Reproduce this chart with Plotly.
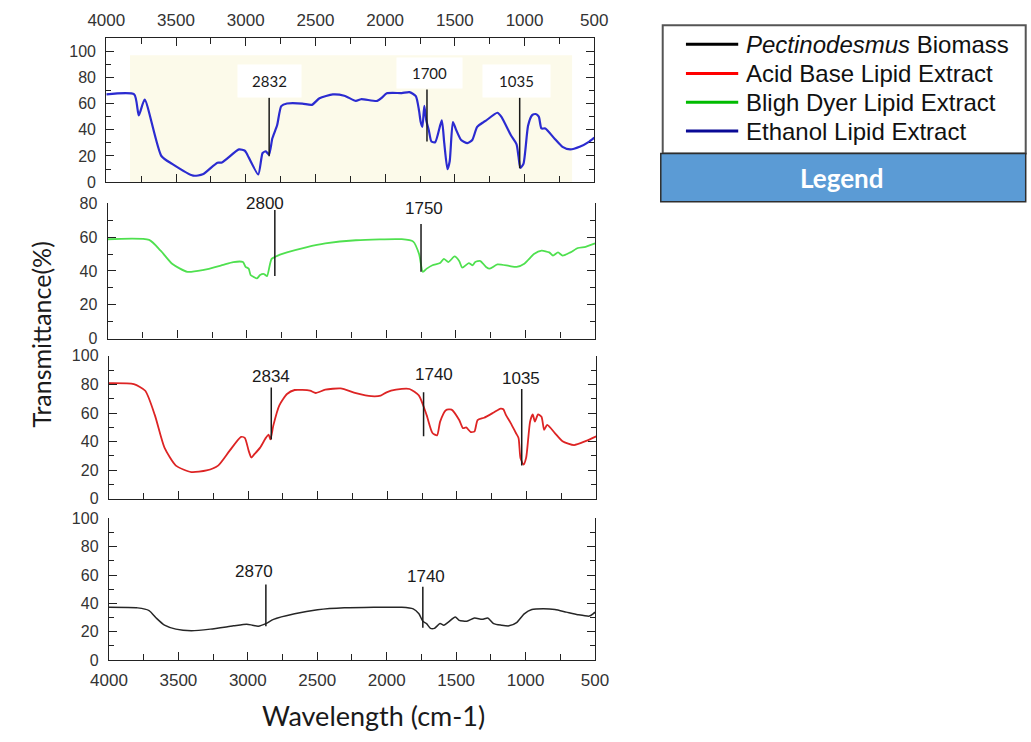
import plotly.graph_objects as go

W, H = 1031, 742

# ---------------- FTIR spectra: wavenumber (cm-1) vs transmittance (%) ----------------
ethanol_wn = [4000, 3800, 3767, 3725, 3605, 3528, 3377, 3308, 3203, 3171, 3048, 3006, 2995,
              2910, 2879, 2856, 2833, 2809, 2775, 2745, 2704, 2594, 2526, 2471, 2375, 2293,
              2210, 2173, 2057, 2023, 1988, 1881, 1826, 1780, 1757, 1745, 1733, 1719, 1705,
              1687, 1668, 1641, 1594, 1576, 1553, 1537, 1514, 1490, 1455, 1410, 1375, 1340,
              1294, 1277, 1195, 1167, 1099, 1058, 1044, 1030, 1008, 975, 947, 920, 898, 879,
              851, 783, 728, 673, 605, 536, 500]
ethanol_t = [67, 67, 51, 63, 20, 14, 5, 6, 14.9, 15, 25, 24, 22.3,
             6, 22.3, 23.5, 21.1, 33.5, 43.4, 58, 60, 60, 59, 64, 67, 66,
             62, 63.3, 62, 64.5, 67.8, 68, 68.7, 65.7, 54.6, 45.9, 42.2, 58.3, 47.1,
             39.7, 31, 30.5, 47.1, 29.8, 9.9, 16, 45.9, 39.7, 32.2, 29.8, 32.2, 42.2,
             45.9, 47, 53, 50, 36, 29, 20, 11, 14, 43, 51, 52, 50, 41,
             41, 33, 27, 25, 27, 31, 34]

bligh_wn = [4000, 3703, 3620, 3538, 3428, 3318, 3180, 3098, 3029, 3010, 2988, 2974, 2955,
            2928, 2906, 2878, 2856, 2823, 2768, 2713, 2575, 2438, 2218, 1888, 1806, 1764,
            1737, 1709, 1668, 1613, 1586, 1553, 1509, 1476, 1454, 1407, 1379, 1360, 1324,
            1283, 1256, 1201, 1118, 1063, 1008, 980, 939, 884, 829, 802, 766, 733, 678,
            623, 568, 500]
bligh_t = [58.8, 58.4, 52, 44.3, 39.5, 40.5, 43.4, 45.3, 45.3, 42.4, 41.4, 37.6, 36.6,
           35.6, 37.6, 38.2, 37, 47.2, 49.5, 51, 54, 56.3, 58.2, 58.8, 57.4, 50,
           39.5, 41.4, 43.4, 44.7, 47.2, 45.3, 48.6, 45.9, 42, 44.7, 43.4, 45.3, 45.9,
           42.4, 41.4, 43.9, 43, 42.4, 44.3, 46.6, 50, 52, 51, 49.1, 51, 49.1, 51,
           53.6, 54.3, 56.3]

acid_wn = [4000, 3821, 3739, 3670, 3601, 3519, 3409, 3299, 3216, 3134, 3051, 3024, 2996,
           2977, 2955, 2914, 2873, 2853, 2840, 2818, 2776, 2721, 2666, 2556, 2515, 2446,
           2336, 2226, 2116, 2048, 2006, 1938, 1841, 1773, 1718, 1676, 1643, 1621, 1580,
           1539, 1484, 1457, 1434, 1401, 1374, 1352, 1305, 1236, 1187, 1167, 1148, 1113,
           1077, 1058, 1044, 1022, 1003, 975, 956, 940, 918, 893, 874, 852, 797, 742,
           659, 577, 500]
acid_t = [80.9, 80.2, 75.6, 58.5, 35.8, 23.2, 18.7, 19.8, 23.2, 33.5, 43.3, 42.6, 33.5,
          28.9, 31.2, 35.8, 42.6, 44.9, 41.5, 51.7, 65.4, 73.3, 76.1, 75.6, 74, 76.3,
          77.2, 74, 71.8, 72.2, 74.5, 76.3, 76.8, 72.2, 58.5, 46, 44.4, 54, 62,
          62.4, 55.1, 49.4, 49.9, 46.7, 47.2, 55.1, 56.7, 60.4, 63.1, 62.6, 58.5, 52.8,
          46, 42.6, 28.5, 23.9, 28.9, 54, 59, 54, 59, 57.4, 48.3, 51.7, 46, 40.3,
          37.6, 40.3, 43.7]

biomass_wn = [4000, 3793, 3711, 3655, 3600, 3518, 3407, 3270, 3104, 3008, 2967, 2925, 2870,
              2815, 2663, 2498, 2305, 1892, 1809, 1768, 1740, 1713, 1685, 1657, 1616, 1589,
              1561, 1506, 1478, 1423, 1368, 1313, 1272, 1230, 1175, 1120, 1065, 1010, 955,
              872, 789, 707, 624, 541, 514, 500]
biomass_t = [37.2, 36.8, 34.9, 29.2, 24.6, 21.8, 20.7, 21.8, 24.1, 25.3, 24.6, 23.9, 25.7,
             28.7, 32.6, 35.4, 36.8, 37.2, 36.1, 32.6, 27.4, 25.7, 22.3, 22.3, 25.7, 24.6,
             26.4, 30.3, 28, 27.4, 29.7, 28.7, 29.7, 25.7, 24.6, 24.1, 26.4, 32.6, 35.6,
             36.1, 35.6, 33.8, 32, 31, 32.6, 33.8]

# ---------------- labelled absorption bands ----------------
ethanol_peaks = [2832, 1700, 1035]
ethanol_peak_top = [64.5, 70.7, 64.5]
ethanol_peak_bottom = [19.8, 31, 10.7]
ethanol_label_y = [76.9, 83.1, 76.9]

bligh_peaks = [2800, 1750]
bligh_peak_top = [76.1, 67.8]
bligh_peak_bottom = [37, 39.5]
bligh_label_y = [80, 77.1]

acid_peaks = [2834, 1740, 1035]
acid_peak_top = [77.9, 74.5, 76.8]
acid_peak_bottom = [41.5, 43.7, 23.2]
acid_label_y = [85.4, 86.9, 84]

biomass_peaks = [2870, 1740]
biomass_peak_top = [53.3, 51.7]
biomass_peak_bottom = [23.9, 22.8]
biomass_label_y = [62.5, 59]

x_tick_vals = [4000, 3500, 3000, 2500, 2000, 1500, 1000, 500]

legend_names = ["<i>Pectinodesmus</i> Biomass", "Acid Base Lipid Extract",
                "Bligh Dyer Lipid Extract", "Ethanol Lipid Extract"]
legend_colors = ["#000000", "#ff0000", "#00bb00", "#0a0a96"]

ARIAL = "Liberation Sans, Arial, sans-serif"
HUMANIST = "Lato, Open Sans, sans-serif"
AXIS_COLOR = "#222222"


def fx(px):
    return px / W


def fy(py):
    return 1 - py / H


# panel layout: pixel box, y range, curve style, label offsets
panels = [
    dict(wn=ethanol_wn, t=ethanol_t, color="#2b2bd0", width=2.2,
         box=(90.2, 30.7, 594.3, 178.3), yrange=[0, 110], top_axis=True, bottom_labels=False,
         peaks=ethanol_peaks, ptop=ethanol_peak_top, pbot=ethanol_peak_bottom,
         ly=ethanol_label_y, shifts=[0, 3, -3], boxed=True,
         box_sizes=[(63, 32), (65, 30), (67, 32)]),
    dict(wn=bligh_wn, t=bligh_t, color="#4fe04f", width=1.8,
         box=(91.7, 200, 595.1, 338.3), yrange=[0, 80], top_axis=False, bottom_labels=False,
         peaks=bligh_peaks, ptop=bligh_peak_top, pbot=bligh_peak_bottom,
         ly=bligh_label_y, shifts=[-10, 3], boxed=False),
    dict(wn=acid_wn, t=acid_t, color="#dd2424", width=1.8,
         box=(92.9, 356, 596.3, 502.3), yrange=[0, 100], top_axis=False, bottom_labels=False,
         peaks=acid_peaks, ptop=acid_peak_top, pbot=acid_peak_bottom,
         ly=acid_label_y, shifts=[0, 10, -1], boxed=False),
    dict(wn=biomass_wn, t=biomass_t, color="#262626", width=1.5,
         box=(92.9, 522.3, 595.1, 667.3), yrange=[0, 100], top_axis=False, bottom_labels=True,
         peaks=biomass_peaks, ptop=biomass_peak_top, pbot=biomass_peak_bottom,
         ly=biomass_label_y, shifts=[-12, 3], boxed=False),
]

fig = go.Figure()
shapes = []
annotations = []
layout_axes = {}

# cream backdrop behind the ethanol spectrum
shapes.append(dict(type="rect", xref="paper", yref="paper", layer="below",
                   x0=fx(114.7), x1=fx(571.4), y0=fy(178.3), y1=fy(48.3),
                   fillcolor="#fcfaea", line=dict(width=0)))

for i, p in enumerate(panels, start=1):
    xa = "x" if i == 1 else f"x{i}"
    ya = "y" if i == 1 else f"y{i}"
    left, top, right, bottom = p["box"]

    fig.add_trace(go.Scatter(x=p["wn"], y=p["t"], mode="lines", xaxis=xa, yaxis=ya,
                             line=dict(color=p["color"], width=p["width"],
                                       shape="spline", smoothing=0.6),
                             showlegend=False, hoverinfo="skip"))

    xaxis = dict(domain=[fx(left), fx(right)], range=[4000, 500], anchor=ya,
                 showline=True, linecolor=AXIS_COLOR, linewidth=1.3,
                 ticks="inside", ticklen=8, tickwidth=1.3, tickcolor=AXIS_COLOR,
                 tickvals=x_tick_vals, showgrid=False, zeroline=False,
                 minor=dict(ticks="inside", ticklen=6, tickwidth=1.3, tickcolor=AXIS_COLOR,
                            tick0=500, dtick=250, showgrid=False),
                 tickfont=dict(family=ARIAL, size=17, color="#333333"),
                 ticklabelstandoff=4, fixedrange=True)
    if p["top_axis"]:
        xaxis.update(side="top", mirror="ticks", showticklabels=True)
    else:
        xaxis.update(side="bottom", mirror=False, showticklabels=p["bottom_labels"])

    yaxis = dict(domain=[fy(bottom), fy(top)], range=p["yrange"], anchor=xa,
                 showline=True, linecolor=AXIS_COLOR, linewidth=1.3, mirror="ticks",
                 ticks="inside", ticklen=8, tickwidth=1.3, tickcolor=AXIS_COLOR,
                 dtick=20, tick0=0, showgrid=False, zeroline=False,
                 minor=dict(ticks="inside", ticklen=5, tickwidth=1.3, tickcolor=AXIS_COLOR,
                            tick0=0, dtick=10, showgrid=False),
                 tickfont=dict(family=ARIAL, size=16, color="#333333"),
                 ticklabelstandoff=6, fixedrange=True)

    layout_axes["xaxis" if i == 1 else f"xaxis{i}"] = xaxis
    layout_axes["yaxis" if i == 1 else f"yaxis{i}"] = yaxis

    # band markers and their wavenumber labels
    for k, wn in enumerate(p["peaks"]):
        shapes.append(dict(type="line", xref=xa, yref=ya, x0=wn, x1=wn,
                           y0=p["pbot"][k], y1=p["ptop"][k],
                           line=dict(color="#1a1a1a", width=1.5)))
        ann = dict(x=wn, y=p["ly"][k], xref=xa, yref=ya, text=str(wn), showarrow=False,
                   xshift=p["shifts"][k], xanchor="center", yanchor="middle")
        if p["boxed"]:
            bw, bh = p["box_sizes"][k]
            ann.update(bgcolor="#ffffff", width=bw, height=bh, borderpad=0,
                       font=dict(family=HUMANIST, size=15, color="#1a1a1a"))
        else:
            ann.update(font=dict(family=ARIAL, size=17, color="#1a1a1a"))
        annotations.append(ann)

# axis titles
annotations.append(dict(x=fx(23), y=fy(334), xref="paper", yref="paper",
                        text="Transmittance(%)", textangle=-90, showarrow=False,
                        xanchor="center", yanchor="middle",
                        font=dict(family=HUMANIST, size=25, color="#1a1a1a")))
annotations.append(dict(x=fx(366), y=fy(724), xref="paper", yref="paper",
                        text="Wavelength (cm-1)", showarrow=False,
                        xanchor="center", yanchor="middle",
                        font=dict(family=HUMANIST, size=27, color="#1a1a1a")))

# legend panel
shapes.append(dict(type="rect", xref="paper", yref="paper",
                   x0=fx(665), x1=fx(1040), y0=fy(149), y1=fy(17.7),
                   fillcolor="#ffffff", line=dict(color="#555555", width=2)))
shapes.append(dict(type="rect", xref="paper", yref="paper",
                   x0=fx(663), x1=fx(1040), y0=fy(198.3), y1=fy(149),
                   fillcolor="#5b9bd5", line=dict(color="#2e2e2e", width=1.5)))
legend_rows = [37, 67, 96.5, 126]
for name, color, row in zip(legend_names, legend_colors, legend_rows):
    shapes.append(dict(type="line", xref="paper", yref="paper",
                       x0=fx(689), x1=fx(743), y0=fy(row), y1=fy(row),
                       line=dict(color=color, width=3)))
    annotations.append(dict(x=fx(749), y=fy(row), xref="paper", yref="paper", text=name,
                            showarrow=False, xanchor="left", yanchor="middle",
                            font=dict(family=ARIAL, size=24, color="#111111")))
annotations.append(dict(x=fx(850), y=fy(173.5), xref="paper", yref="paper",
                        text="<b>Legend</b>", showarrow=False,
                        xanchor="center", yanchor="middle",
                        font=dict(family=HUMANIST, size=26, color="#ffffff")))

fig.update_layout(width=W, height=H, margin=dict(l=0, r=0, t=0, b=0),
                  paper_bgcolor="#ffffff", plot_bgcolor="rgba(0,0,0,0)",
                  showlegend=False, shapes=shapes, annotations=annotations,
                  **layout_axes)

fig.write_html("out.html", config={"displayModeBar": False})
